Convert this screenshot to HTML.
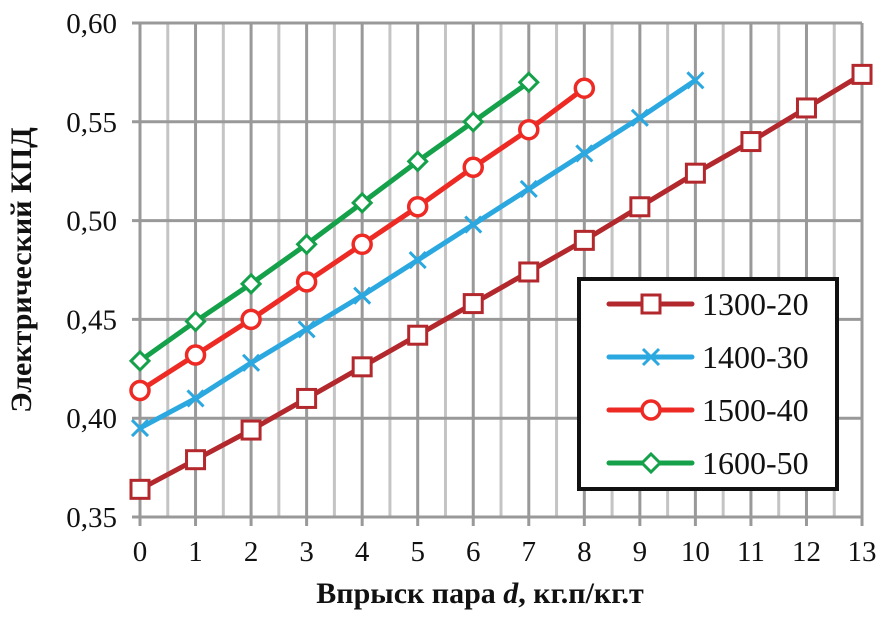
<!DOCTYPE html>
<html><head><meta charset="utf-8"><style>
body{margin:0;background:#fff}
text,tspan{font-family:"Liberation Serif","DejaVu Serif",serif !important;fill:#111}
</style></head><body>
<svg id="c" width="885" height="615" font-family="Liberation Serif, serif"></svg>
<script>
const xTicks=[0,1,2,3,4,5,6,7,8,9,10,11,12,13];
const yTicks=[0.35,0.40,0.45,0.50,0.55,0.60];
const yTickLabels=["0,35","0,40","0,45","0,50","0,55","0,60"];
const seriesNames=["1300-20","1400-30","1500-40","1600-50"];
const s1300=[0.364,0.379,0.394,0.410,0.426,0.442,0.458,0.474,0.490,0.507,0.524,0.540,0.557,0.574];
const s1400=[0.395,0.410,0.428,0.445,0.462,0.480,0.498,0.516,0.534,0.552,0.571];
const s1500=[0.414,0.432,0.450,0.469,0.488,0.507,0.527,0.546,0.567];
const s1600=[0.429,0.449,0.468,0.488,0.509,0.530,0.550,0.570];
const NS="http://www.w3.org/2000/svg";
const svg=document.getElementById('c');
const X=v=>140+v*55.54, Y=v=>517-(v-0.35)/0.25*494;
function mk(t,a,p){const e=document.createElementNS(NS,t);for(const k in a)e.setAttribute(k,a[k]);if(t==='text')e.setAttribute('font-family','Liberation Serif, serif');(p||svg).appendChild(e);return e;}
for(let i=0;i<=26;i++){const v=i/2;const l=mk('line',{x1:X(v),x2:X(v),y1:Y(0.6),y2:Y(0.35)+(i%2?0:9),stroke:i%2?'#c4c4c4':'#999',"stroke-width":3});

}
yTicks.forEach((v,i)=>{const l=mk('line',{x1:X(0)-8,x2:X(13),y1:Y(v),y2:Y(v),stroke:'#999',"stroke-width":3});


const t=mk('text',{x:117,y:Y(v)+10,"text-anchor":"end","font-size":29});t.textContent=yTickLabels[i];

});
xTicks.forEach(v=>{const t=mk('text',{x:X(v),y:561,"text-anchor":"middle","font-size":29});t.textContent=v;

});
const yt=mk('text',{transform:"translate(31,270) rotate(-90)","text-anchor":"middle","font-size":30,"font-weight":"bold"});yt.textContent="Электрический КПД";


const xt=mk('text',{x:480,y:603,"text-anchor":"middle","font-size":30,"font-weight":"bold"});xt.innerHTML='Впрыск пара <tspan font-style="italic">d</tspan>, кг.п/кг.т';


const colors=['#b3282d','#2ba8e0','#ee2a24','#15a04a'];
const kinds=['sq','x','o','d'];
function marker(x,y,k,c,g){
 if(k==='sq')return mk('rect',{x:x-9,y:y-9,width:18,height:18,fill:'#fff',stroke:c,"stroke-width":3},g);
 if(k==='o')return mk('circle',{cx:x,cy:y,r:9,fill:'#fff',stroke:c,"stroke-width":3.5},g);
 if(k==='d')return mk('path',{d:`M${x} ${y-9}L${x+9} ${y}L${x} ${y+9}L${x-9} ${y}Z`,fill:'#fff',stroke:c,"stroke-width":3},g);
 return mk('path',{d:`M${x-8} ${y-8}L${x+8} ${y+8}M${x+8} ${y-8}L${x-8} ${y+8}`,stroke:c,"stroke-width":3},g);
}
[s1300,s1400,s1500,s1600].forEach((s,si)=>{
 const g=mk('g',{});
 
 
 mk('polyline',{points:s.map((v,i)=>X(i)+','+Y(v)).join(' '),fill:'none',stroke:colors[si],"stroke-width":5},g);
 s.forEach((v,i)=>{const m=marker(X(i),Y(v),kinds[si],colors[si],g);
 
 });
});
const lg=mk('g',{});


mk('rect',{x:579,y:279,width:258,height:210,fill:'#fff',stroke:'#111',"stroke-width":4},lg);
seriesNames.forEach((n,i)=>{const y=304+i*53;
 const e=mk('g',{},lg);
 
 
 mk('line',{x1:609,x2:692,y1:y,y2:y,stroke:colors[i],"stroke-width":5,"stroke-linecap":"round"},e);
 marker(651,y,kinds[i],colors[i],e);
 const t=mk('text',{x:702,y:y+11,"font-size":32},e);t.textContent=n;});
</script>
</body></html>
